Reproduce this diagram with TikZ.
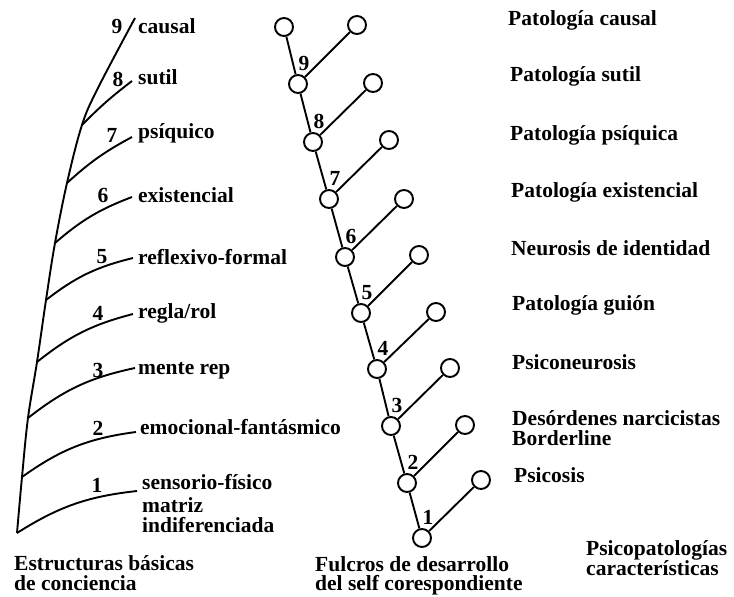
\documentclass[tikz,border=0pt]{standalone}
\usepackage{fontspec}
\setmainfont{Liberation Serif}
\usetikzlibrary{positioning}

\begin{document}
\begin{tikzpicture}[
  x=1pt, y=-1pt,
  every node/.style={font=\fontsize{21.5}{19.5}\selectfont\bfseries, inner sep=0pt},
  circ/.style={draw, circle, minimum size=18pt, line width=1.9pt, fill=white},
  num/.style={label distance=3pt, xshift=6pt},
  txt/.style={anchor=west, align=left},
  link/.style={draw, line width=1.9pt}
]
\useasboundingbox (0,0) rectangle (734,597);

% estructuras basicas
\coordinate (t1) at (17,533);
\coordinate (t2) at (22,477);
\coordinate (t3) at (28,418);
\coordinate (t4) at (37,362);
\coordinate (t5) at (46,300);
\coordinate (t6) at (55,243);
\coordinate (t7) at (67,183);
\coordinate (t8) at (82,125);
\coordinate (tm) at (98,88);
\coordinate (t9) at (135,18);
\coordinate (e1) at (137,491);
\coordinate (e2) at (136,432);
\coordinate (e3) at (135,368);
\coordinate (e4) at (133,314);
\coordinate (e5) at (133,258);
\coordinate (e6) at (132,197);
\coordinate (e7) at (132,137);
\coordinate (e8) at (132,81);
\draw[link] plot[smooth, tension=0.6] coordinates {(t1) (t2) (t3) (t4) (t5) (t6) (t7) (t8) (tm) (t9)};
\draw[link] (t1) to[bend left=13] (e1);
\draw[link] (t2) to[bend left=14] (e2);
\draw[link] (t3) to[bend left=13] (e3);
\draw[link] (t4) to[bend left=12] (e4);
\draw[link] (t5) to[bend left=12] (e5);
\draw[link] (t6) to[bend left=10] (e6);
\draw[link] (t7) to[bend left=7] (e7);
\draw[link] (t8) to[bend left=4] (e8);

\node (n9) at (117,26) {9};
\node (n8) at (118,79) {8};
\node (n7) at (112,135) {7};
\node (n6) at (103,195) {6};
\node (n5) at (102,257) {5};
\node (n4) at (98,313) {4};
\node (n3) at (98,370) {3};
\node (n2) at (98,428) {2};
\node (n1) at (97,485) {1};
\node[txt] (b9) at (138,26) {causal};
\node[txt] (b8) at (138,77) {sutil};
\node[txt] (b7) at (138,133) {psíquico};
\node[txt] (b6) at (138,195) {existencial};
\node[txt] (b5) at (138,257) {reflexivo-formal};
\node[txt] (b4) at (138,313) {regla/rol};
\node[txt] (b3) at (138,371) {mente rep};
\node[txt] (b2) at (140,427) {emocional-fantásmico};
\node[txt] (b1) at (142,482) {sensorio-físico};
\node[txt] (b0) at (142,515) {matriz\\indiferenciada};

% fulcros
\node[circ] (f0) at (284,27) {};
\node[circ, label={[num]above:9}] (f9) at (298,84) {};
\node[circ, label={[num]above:8}] (f8) at (313,142) {};
\node[circ, label={[num]above:7}] (f7) at (329,199) {};
\node[circ, label={[num]above:6}] (f6) at (345,257) {};
\node[circ, label={[num]above:5}] (f5) at (361,313) {};
\node[circ, label={[num]above:4}] (f4) at (377,369) {};
\node[circ, label={[num]above:3}] (f3) at (391,426) {};
\node[circ, label={[num]above:2}] (f2) at (407,483) {};
\node[circ, label={[num]above:1}] (f1) at (422,538) {};
\node[circ] (p9) at (357,25) {};
\node[circ] (p8) at (373,83) {};
\node[circ] (p7) at (389,140) {};
\node[circ] (p6) at (404,199) {};
\node[circ] (p5) at (419,255) {};
\node[circ] (p4) at (436,312) {};
\node[circ] (p3) at (450,368) {};
\node[circ] (p2) at (465,425) {};
\node[circ] (p1) at (481,480) {};
\draw[link] (f1) -- (f2) -- (f3) -- (f4) -- (f5) -- (f6) -- (f7) -- (f8) -- (f9) -- (f0);
\draw[link] (f1) -- (p1);
\draw[link] (f2) -- (p2);
\draw[link] (f3) -- (p3);
\draw[link] (f4) -- (p4);
\draw[link] (f5) -- (p5);
\draw[link] (f6) -- (p6);
\draw[link] (f7) -- (p7);
\draw[link] (f8) -- (p8);
\draw[link] (f9) -- (p9);

% psicopatologias
\node[txt] (r9) at (508,20) {Patología causal};
\node[txt] (r8) at (510,76) {Patología sutil};
\node[txt] (r7) at (510,135) {Patología psíquica};
\node[txt] (r6) at (511,192) {Patología existencial};
\node[txt] (r5) at (511,248) {Neurosis de identidad};
\node[txt] (r4) at (512,305) {Patología guión};
\node[txt] (r3) at (512,362) {Psiconeurosis};
\node[txt] (r2) at (512,428) {Desórdenes narcicistas\\Borderline};
\node[txt] (r1) at (514,475) {Psicosis};

% titulos
\node[txt] (h1) at (14,573) {Estructuras básicas\\de conciencia};
\node[txt] (h2) at (315,576) {Fulcros de desarrollo\\del self corespondiente};
\node[txt] (h3) at (586,558) {Psicopatologías\\características};
\end{tikzpicture}
\end{document}
